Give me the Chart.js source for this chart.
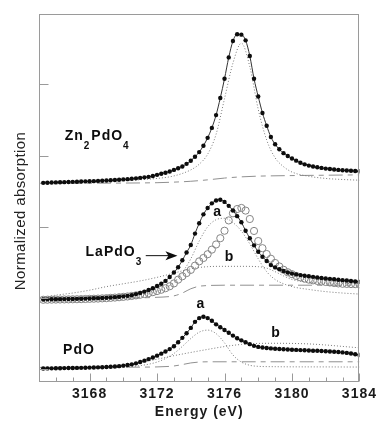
<!DOCTYPE html>
<html>
<head>
<meta charset="utf-8">
<script src="https://cdn.jsdelivr.net/npm/chart.js@4/dist/chart.umd.min.js"></script>
<style>
  html, body { margin: 0; padding: 0; background: #fff; }
  canvas { display: block; }
</style>
</head>
<body>
<canvas id="xanes" width="379" height="421"></canvas>
<script>
// measured spectra, one point every 0.25 eV
const energy = [
  3165.25, 3165.5, 3165.75, 3166, 3166.25, 3166.5, 3166.75, 3167, 3167.25, 3167.5, 3167.75, 3168,
  3168.25, 3168.5, 3168.75, 3169, 3169.25, 3169.5, 3169.75, 3170, 3170.25, 3170.5, 3170.75, 3171,
  3171.25, 3171.5, 3171.75, 3172, 3172.25, 3172.5, 3172.75, 3173, 3173.25, 3173.5, 3173.75, 3174,
  3174.25, 3174.5, 3174.75, 3175, 3175.25, 3175.5, 3175.75, 3176, 3176.25, 3176.5, 3176.75, 3177,
  3177.25, 3177.5, 3177.75, 3178, 3178.25, 3178.5, 3178.75, 3179, 3179.25, 3179.5, 3179.75, 3180,
  3180.25, 3180.5, 3180.75, 3181, 3181.25, 3181.5, 3181.75, 3182, 3182.25, 3182.5, 3182.75, 3183,
  3183.25, 3183.5, 3183.75, 3184
];
const zn2pdo4 = [
  2.618, 2.620, 2.622, 2.624, 2.626, 2.628, 2.630, 2.632, 2.634, 2.636, 2.638, 2.640,
  2.642, 2.645, 2.648, 2.651, 2.654, 2.658, 2.662, 2.666, 2.670, 2.675, 2.681, 2.688,
  2.695, 2.702, 2.715, 2.730, 2.745, 2.760, 2.778, 2.800, 2.822, 2.848, 2.885, 2.928,
  2.985, 3.050, 3.140, 3.250, 3.390, 3.570, 3.810, 4.080, 4.380, 4.610, 4.705, 4.700,
  4.620, 4.400, 4.080, 3.830, 3.600, 3.420, 3.262, 3.160, 3.090, 3.035, 2.995, 2.960,
  2.930, 2.900, 2.878, 2.860, 2.848, 2.838, 2.828, 2.818, 2.812, 2.806, 2.800, 2.795,
  2.791, 2.787, 2.784, 2.781
];
const lapdo3 = [
  0.980, 0.981, 0.982, 0.983, 0.984, 0.985, 0.986, 0.987, 0.988, 0.990, 0.992, 0.994,
  0.996, 0.998, 1.001, 1.004, 1.008, 1.012, 1.017, 1.023, 1.030, 1.040, 1.055, 1.072,
  1.090, 1.112, 1.138, 1.168, 1.200, 1.240, 1.295, 1.358, 1.432, 1.530, 1.640, 1.745,
  1.905, 2.050, 2.175, 2.265, 2.330, 2.370, 2.380, 2.350, 2.295, 2.230, 2.150, 2.065,
  1.945, 1.840, 1.740, 1.650, 1.580, 1.520, 1.462, 1.430, 1.405, 1.380, 1.358, 1.343,
  1.332, 1.322, 1.313, 1.305, 1.297, 1.289, 1.282, 1.275, 1.269, 1.263, 1.257, 1.251,
  1.245, 1.239, 1.232, 1.226
];
// open circles drawn over the LaPdO3 spectrum
const zn2pdo4Overlay = [
  0.975, 0.976, 0.977, 0.978, 0.979, 0.980, 0.981, 0.982, 0.983, 0.984, 0.986, 0.988,
  0.990, 0.992, 0.995, 0.998, 1.002, 1.006, 1.011, 1.016, 1.022, 1.029, 1.037, 1.046,
  1.056, 1.068, 1.082, 1.098, 1.116, 1.138, 1.165, 1.205, 1.258, 1.305, 1.350, 1.395,
  1.455, 1.515, 1.562, 1.615, 1.680, 1.752, 1.840, 1.945, 2.090, 2.190, 2.250, 2.265,
  2.228, 2.110, 1.942, 1.800, 1.700, 1.618, 1.552, 1.492, 1.443, 1.397, 1.362, 1.335,
  1.310, 1.290, 1.272, 1.258, 1.248, 1.240, 1.232, 1.225, 1.218, 1.211, 1.205, 1.200,
  1.198, 1.196, 1.195, 1.194
];
const pdo = [
  0.010, 0.011, 0.012, 0.013, 0.014, 0.015, 0.016, 0.017, 0.018, 0.019, 0.020, 0.022,
  0.024, 0.026, 0.028, 0.031, 0.034, 0.038, 0.043, 0.050, 0.058, 0.068, 0.082, 0.100,
  0.120, 0.142, 0.165, 0.190, 0.218, 0.248, 0.282, 0.322, 0.378, 0.440, 0.505, 0.580,
  0.665, 0.718, 0.736, 0.718, 0.680, 0.630, 0.590, 0.551, 0.512, 0.472, 0.435, 0.405,
  0.378, 0.352, 0.328, 0.313, 0.304, 0.297, 0.292, 0.287, 0.283, 0.280, 0.277, 0.274,
  0.271, 0.268, 0.265, 0.262, 0.260, 0.258, 0.255, 0.252, 0.249, 0.246, 0.242, 0.236,
  0.229, 0.220, 0.210, 0.200
];

// fit components
const znPeakE = [3165, 3166, 3167, 3168, 3169, 3170, 3171, 3172, 3173, 3174, 3174.5, 3175, 3175.5,
  3176, 3176.5, 3177, 3177.5, 3178, 3178.5, 3179, 3179.5, 3180, 3181, 3182, 3183, 3184];
const znPeak = [2.630, 2.632, 2.635, 2.640, 2.645, 2.652, 2.662, 2.680, 2.715, 2.800, 2.880, 3.020, 3.300,
  3.800, 4.300, 4.580, 4.250, 3.650, 3.220, 2.970, 2.845, 2.770, 2.710, 2.680, 2.665, 2.655];
const znStepE = [3165, 3168, 3170, 3172, 3173, 3174, 3175, 3176, 3177, 3178, 3180, 3182, 3184];
const znStep = [2.612, 2.613, 2.615, 2.620, 2.628, 2.640, 2.660, 2.685, 2.702, 2.712, 2.720, 2.725, 2.730];

const laPeakAE = [3165, 3166, 3167, 3168, 3169, 3170, 3171, 3171.5, 3172, 3172.5, 3173, 3173.5, 3174, 3174.5,
  3175, 3175.5, 3176, 3176.5, 3177, 3177.5, 3178, 3178.5, 3179, 3179.5, 3180, 3181, 3182, 3183, 3184];
const laPeakA = [0.990, 0.995, 1.000, 1.005, 1.012, 1.025, 1.045, 1.065, 1.095, 1.140, 1.220, 1.360, 1.550, 1.800,
  2.000, 2.100, 2.120, 2.060, 1.940, 1.760, 1.550, 1.370, 1.260, 1.200, 1.160, 1.120, 1.090, 1.070, 1.055];
const laPeakBE = [3165, 3166, 3167, 3168, 3169, 3170, 3171, 3172, 3173, 3174, 3175, 3176, 3177, 3178,
  3178.5, 3179, 3179.5, 3180, 3181, 3182, 3183, 3184];
const laPeakB = [1.000, 1.040, 1.070, 1.110, 1.160, 1.200, 1.240, 1.290, 1.350, 1.410, 1.440, 1.445, 1.445, 1.440,
  1.420, 1.370, 1.310, 1.260, 1.220, 1.210, 1.205, 1.200];
const laStepE = [3165, 3170, 3172, 3173, 3173.5, 3174, 3174.5, 3175, 3176, 3184];
const laStep = [0.995, 1.000, 1.010, 1.030, 1.070, 1.130, 1.165, 1.175, 1.180, 1.180];

const pdoPeakAE = [3165, 3167, 3169, 3170, 3171, 3172, 3172.5, 3173, 3173.5, 3174, 3174.5, 3175, 3175.5,
  3176, 3176.5, 3177, 3177.5, 3178, 3179, 3180, 3182, 3184];
const pdoPeakA = [0.010, 0.012, 0.020, 0.030, 0.050, 0.100, 0.150, 0.220, 0.320, 0.430, 0.520, 0.549, 0.500,
  0.370, 0.200, 0.100, 0.055, 0.040, 0.035, 0.033, 0.032, 0.030];
const pdoPeakBE = [3165, 3167, 3169, 3170, 3171, 3172, 3173, 3174, 3175, 3176, 3177, 3178, 3179, 3180,
  3181, 3182, 3183, 3184];
const pdoPeakB = [0.012, 0.018, 0.035, 0.055, 0.090, 0.140, 0.190, 0.235, 0.278, 0.318, 0.348, 0.362, 0.364, 0.362,
  0.355, 0.340, 0.320, 0.300];
const pdoStepE = [3165, 3170, 3172, 3173, 3173.5, 3174, 3174.5, 3175, 3184];
const pdoStep = [0.025, 0.028, 0.032, 0.045, 0.065, 0.088, 0.100, 0.104, 0.104];

const xTickLabels = [3168, 3172, 3176, 3180, 3184];
const yTicks = [0, 1, 2, 3, 4];

const FONT = "'Liberation Sans', Arial, sans-serif";
const pts = (xs, ys) => xs.map((x, i) => ({ x: x, y: ys[i] }));

function dots(data) {
  return {
    data: data, showLine: true, borderColor: '#333', borderWidth: 1,
    pointRadius: 2.2, pointBackgroundColor: '#0d0d0d', pointBorderWidth: 0,
    cubicInterpolationMode: 'monotone'
  };
}
function dotted(data) {
  return {
    data: data, borderColor: '#7a7a7a', borderWidth: 1, borderDash: [1, 2],
    pointRadius: 0, cubicInterpolationMode: 'monotone'
  };
}
function dashed(data) {
  return {
    data: data, borderColor: '#909090', borderWidth: 1, borderDash: [14, 5, 5, 5],
    pointRadius: 0, cubicInterpolationMode: 'monotone'
  };
}

const labels = [
  { parts: [['Zn', 0], ['2', 1], ['PdO', 0], ['4', 1]], x: 3166.52, y: 3.218 },
  { parts: [['LaPdO', 0], ['3', 1]], x: 3167.76, y: 1.588 },
  { parts: [['PdO', 0]], x: 3166.43, y: 0.208 },
  { parts: [['a', 0]], x: 3175.6, y: 2.20, center: true },
  { parts: [['b', 0]], x: 3176.3, y: 1.58, center: true },
  { parts: [['a', 0]], x: 3174.6, y: 0.91, center: true },
  { parts: [['b', 0]], x: 3179.05, y: 0.50, center: true }
];
const arrow = { from: 3171.33, to: 3173.21, y: 1.595 };

const decor = {
  id: 'decor',
  beforeDraw(chart) { chart.ctx.letterSpacing = '1px'; },
  afterDraw(chart) {
    const { ctx, chartArea: a, scales: { x, y } } = chart;
    ctx.save();
    ctx.strokeStyle = '#9a9a9a';
    ctx.lineWidth = 1;
    const L = Math.round(a.left) + 0.5, R = Math.round(a.right) - 0.5;
    const T = Math.round(a.top) + 0.5, B = Math.round(a.bottom) - 0.5;
    ctx.strokeRect(L, T, R - L, B - T);
    ctx.beginPath();
    x.ticks.forEach(t => {
      const px = Math.round(x.getPixelForValue(t.value)) + 0.5;
      const len = t.value % 4 === 0 ? 8 : 4;
      ctx.moveTo(px, B); ctx.lineTo(px, B - len);
    });
    yTicks.forEach(v => {
      const py = Math.round(y.getPixelForValue(v)) + 0.5;
      ctx.moveTo(L, py); ctx.lineTo(L + 9, py);
    });
    ctx.stroke();

    // sample labels with subscripts
    ctx.fillStyle = '#0d0d0d';
    ctx.textBaseline = 'alphabetic';
    ctx.letterSpacing = '1px';
    labels.forEach(lb => {
      let px = x.getPixelForValue(lb.x);
      const py = y.getPixelForValue(lb.y);
      if (lb.center) {
        ctx.font = 'bold 14px ' + FONT;
        ctx.textAlign = 'center';
        ctx.textBaseline = 'middle';
        ctx.fillText(lb.parts[0][0], px, py);
        ctx.textBaseline = 'alphabetic';
        return;
      }
      ctx.textAlign = 'left';
      lb.parts.forEach(([txt, sub]) => {
        ctx.font = sub ? 'bold 10px ' + FONT : 'bold 14px ' + FONT;
        ctx.fillText(txt, px, sub ? py + 9 : py);
        px += ctx.measureText(txt).width + (sub ? 1 : 0);
      });
    });

    // arrow pointing at the LaPdO3 spectrum
    const ax1 = x.getPixelForValue(arrow.from), ax2 = x.getPixelForValue(arrow.to);
    const ay = y.getPixelForValue(arrow.y);
    ctx.strokeStyle = '#111';
    ctx.lineWidth = 1;
    ctx.beginPath();
    ctx.moveTo(ax1, ay); ctx.lineTo(ax2 - 8, ay);
    ctx.stroke();
    ctx.beginPath();
    ctx.moveTo(ax2, ay);
    ctx.lineTo(ax2 - 12, ay - 4.5);
    ctx.lineTo(ax2 - 9, ay);
    ctx.lineTo(ax2 - 12, ay + 4.5);
    ctx.closePath();
    ctx.fill();

    // y axis title
    ctx.letterSpacing = '0.4px';
    ctx.font = '15px ' + FONT;
    ctx.fillStyle = '#222';
    ctx.textAlign = 'center';
    ctx.textBaseline = 'middle';
    ctx.translate(21, 211);
    ctx.rotate(-Math.PI / 2);
    ctx.fillText('Normalized absorption', 0, 0);
    ctx.restore();
    ctx.letterSpacing = '0px';
  }
};

new Chart(document.getElementById('xanes'), {
  type: 'line',
  data: {
    datasets: [
      dots(pts(energy, zn2pdo4)),
      dots(pts(energy, lapdo3)),
      dots(pts(energy, pdo)),
      {
        data: pts(energy, zn2pdo4Overlay), showLine: false,
        pointRadius: 3.6, pointBackgroundColor: 'rgba(0,0,0,0)',
        pointBorderColor: '#858585', pointBorderWidth: 1
      },
      dotted(pts(znPeakE, znPeak)),
      dashed(pts(znStepE, znStep)),
      dotted(pts(laPeakAE, laPeakA)),
      dotted(pts(laPeakBE, laPeakB)),
      dashed(pts(laStepE, laStep)),
      dotted(pts(pdoPeakAE, pdoPeakA)),
      dotted(pts(pdoPeakBE, pdoPeakB)),
      dashed(pts(pdoStepE, pdoStep))
    ]
  },
  options: {
    responsive: false,
    animation: false,
    devicePixelRatio: 1,
    layout: { autoPadding: false, padding: { left: 39, right: 16, top: 14, bottom: 0 } },
    plugins: { legend: { display: false }, tooltip: { enabled: false } },
    scales: {
      x: {
        type: 'linear',
        min: 3165,
        max: 3184,
        grid: { display: false, drawTicks: false },
        border: { display: false },
        ticks: {
          stepSize: 1,
          autoSkip: false,
          maxRotation: 0,
          padding: 4,
          color: '#1a1a1a',
          font: { family: FONT, size: 14, weight: 'bold' },
          callback: v => xTickLabels.includes(v) ? String(v) : ''
        },
        title: {
          display: true,
          text: 'Energy (eV)',
          color: '#1a1a1a',
          font: { family: FONT, size: 14, weight: 'bold' },
          padding: { top: 1, bottom: 0 }
        },
        afterFit: s => { s.height = 39; }
      },
      y: {
        display: false,
        min: -0.18,
        max: 4.99
      }
    }
  },
  plugins: [decor]
});
</script>
</body>
</html>
